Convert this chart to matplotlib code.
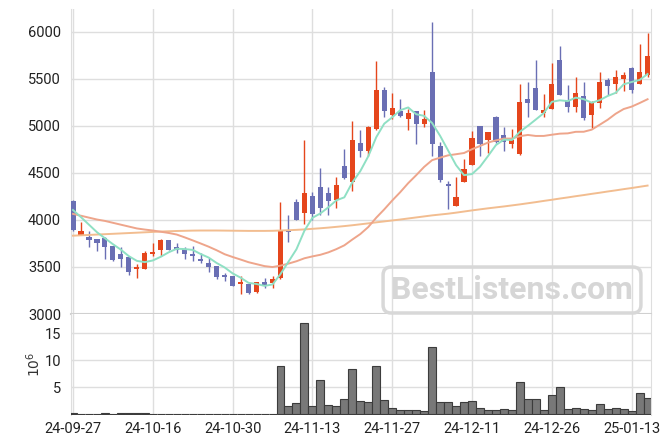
import matplotlib
matplotlib.use('Agg')
import matplotlib.pyplot as plt
import numpy as np
import pandas as pd

# ---------------- data ----------------
dates = ['24-09-27', '24-09-30', '24-10-02', '24-10-04', '24-10-07', '24-10-08', '24-10-10',
         '24-10-11', '24-10-14', '24-10-15', '24-10-16', '24-10-17', '24-10-18', '24-10-21',
         '24-10-22', '24-10-23', '24-10-24', '24-10-25', '24-10-28', '24-10-29', '24-10-30',
         '24-10-31', '24-11-01', '24-11-04', '24-11-05', '24-11-06', '24-11-07', '24-11-08',
         '24-11-11', '24-11-12', '24-11-13', '24-11-14', '24-11-15', '24-11-18', '24-11-19',
         '24-11-20', '24-11-21', '24-11-22', '24-11-25', '24-11-26', '24-11-27', '24-11-28',
         '24-11-29', '24-12-02', '24-12-03', '24-12-04', '24-12-05', '24-12-06', '24-12-09',
         '24-12-10', '24-12-11', '24-12-12', '24-12-13', '24-12-16', '24-12-17', '24-12-18',
         '24-12-19', '24-12-20', '24-12-23', '24-12-24', '24-12-26', '24-12-27', '24-12-30',
         '25-01-02', '25-01-03', '25-01-06', '25-01-07', '25-01-08', '25-01-09', '25-01-10',
         '25-01-13', '25-01-14', '25-01-15']

opens = [4200, 3845, 3820, 3800, 3810, 3720, 3640, 3610, 3482, 3482, 3643, 3685, 3787, 3710,
         3688, 3638, 3590, 3545, 3510, 3410, 3404, 3322, 3316, 3237, 3340, 3333, 3380, 3890,
         4188, 4078, 4252, 4350, 4284, 4210, 4571, 4401, 4816, 4731, 4968, 5383, 5120, 5163,
         5074, 5156, 5024, 5574, 4787, 4383, 4152, 4404, 4585, 4996, 4851, 5096, 4901, 4812,
         4699, 5284, 5401, 5142, 5184, 5702, 5266, 5206, 5319, 5120, 5248, 5489, 5450, 5503,
         5614, 5450, 5539]
highs = [4210, 3975, 3880, 3800, 3815, 3725, 3715, 3615, 3530, 3670, 3752, 3800, 3790, 3750,
         3710, 3720, 3650, 3600, 3512, 3433, 3406, 3404, 3318, 3345, 3380, 3404, 4188, 4050,
         4220, 4850, 4300, 4550, 4351, 4454, 4752, 5053, 4957, 5000, 5688, 5411, 5348, 5284,
         5181, 5160, 5170, 6110, 4834, 4415, 4454, 4646, 4943, 5000, 4935, 5106, 4986, 4965,
         5443, 5465, 5700, 5337, 5674, 5851, 5433, 5518, 5468, 5262, 5574, 5511, 5592, 5571,
         5631, 5870, 5986]
lows = [3880, 3840, 3715, 3665, 3590, 3560, 3500, 3415, 3380, 3480, 3620, 3615, 3683, 3645,
        3580, 3567, 3545, 3450, 3370, 3348, 3298, 3210, 3215, 3220, 3273, 3273, 3375, 3766,
        3995, 3957, 4000, 4053, 4050, 4124, 4433, 4309, 4667, 4681, 4960, 5092, 5071, 5095,
        4957, 4809, 4986, 4684, 4401, 4114, 4150, 4400, 4580, 4684, 4710, 4816, 4737, 4766,
        4695, 5099, 5165, 5099, 5180, 5330, 5152, 5152, 5060, 4976, 5188, 5326, 5348, 5369,
        5351, 5448, 5518]
closes = [3890, 3883, 3790, 3750, 3715, 3575, 3590, 3445, 3500, 3650, 3662, 3787, 3685, 3685,
          3635, 3617, 3567, 3497, 3397, 3398, 3301, 3340, 3220, 3337, 3298, 3376, 3894, 3876,
          4000, 4284, 4060, 4130, 4202, 4369, 4444, 4851, 4731, 4993, 5383, 5163, 5191, 5106,
          5142, 5024, 5074, 4812, 4426, 4365, 4241, 4539, 4872, 4812, 4933, 4830, 4827, 4851,
          5252, 5248, 5167, 5170, 5447, 5333, 5206, 5351, 5088, 5259, 5468, 5429, 5518, 5539,
          5386, 5574, 5745]
# volume, millions
volumes = [0.25, 0.1, 0.1, 0.1, 0.3, 0.1, 0.3, 0.3, 0.3, 0.3, 0.15, 0.15, 0.05, 0.05, 0.1,
           0.1, 0.02, 0.02, 0.1, 0.02, 0.02, 0.02, 0.02, 0.02, 0.02, 0.02, 9.0, 1.57, 2.13,
           16.9, 1.57, 6.4, 1.76, 1.6, 2.87, 8.43, 2.5, 2.3, 9.0, 2.7, 1.2, 0.83, 0.83, 0.83,
           0.65, 12.4, 2.3, 2.3, 1.57, 2.3, 2.5, 1.2, 0.83, 0.83, 1.0, 0.83, 6.0, 2.87, 2.87,
           0.83, 3.6, 5.0, 1.0, 1.2, 1.0, 0.83, 1.94, 1.0, 1.2, 1.0, 0.65, 3.98, 3.05]

# moving-average values before enough history is visible
ma5_head = [4106, 4030, 3950, 3870]
ma20_head = [4065, 4045, 4025, 4005, 3990, 3970, 3950, 3930, 3910, 3898, 3888, 3875, 3862,
             3845, 3815, 3783, 3750, 3716, 3678]
ma_long = [3833, 3837, 3841, 3845, 3849, 3853, 3857, 3861, 3865, 3869, 3873, 3877, 3880,
           3883, 3885, 3887, 3888, 3888, 3888, 3887, 3886, 3885, 3884, 3884, 3884, 3885,
           3888, 3891, 3895, 3900, 3906, 3912, 3919, 3927, 3935, 3944, 3954, 3964, 3975,
           3985, 3995, 4005, 4016, 4027, 4038, 4049, 4058, 4067, 4078, 4090, 4102, 4113,
           4124, 4134, 4144, 4155, 4166, 4178, 4190, 4203, 4215, 4228, 4240, 4253, 4265,
           4278, 4290, 4303, 4315, 4328, 4340, 4353, 4366]

price_ticks = [3000, 3500, 4000, 4500, 5000, 5500, 6000]
vol_ticks = [5, 10, 15]

# ---------------- derived ----------------
n = len(closes)
x = np.arange(n)
o = np.array(opens, float); c = np.array(closes, float)
h = np.array(highs, float); l = np.array(lows, float)
cs = pd.Series(c)
ma5 = cs.rolling(5).mean().to_numpy(); ma5[:4] = ma5_head
ma20 = cs.rolling(20).mean().to_numpy(); ma20[:19] = ma20_head

UP = '#e5461c'
DOWN = '#6a6fb4'
GRID = '#dedede'

plt.rcParams['font.family'] = ['Roboto', 'DejaVu Sans']

W, H = 671, 444
fig = plt.figure(figsize=(W / 100, H / 100), dpi=100)
L, R = 70.7, 651.0
ax = fig.add_axes([L / W, 1 - 314 / H, (R - L) / W, (314 - 9.3) / H])
axv = fig.add_axes([L / W, 1 - 415 / H, (R - L) / W, (415 - 314) / H], sharex=ax)

colors = [UP if cc >= oo else DOWN for oo, cc in zip(o, c)]

ax.vlines(x, l, h, colors=colors, lw=1.0, zorder=3)
ax.bar(x, np.maximum(np.abs(c - o), 4), bottom=np.minimum(o, c), width=0.64,
       color=colors, zorder=3, linewidth=0)

ax.plot(x, ma_long, color='#f2bd90', lw=1.4, zorder=4)
ax.plot(x, ma20, color='#eea58b', lw=1.4, zorder=4)
ax.plot(x, ma5, color='#8fe0c4', lw=1.4, zorder=4)

ax.set_ylim(3000, 6241)
ax.set_xlim(-0.29, 72.43)
ax.set_yticks(price_ticks)
ax.set_yticklabels([str(t) for t in price_ticks])

axv.bar(x, volumes, width=1.0, color='#787878', edgecolor='#3c3c3c', linewidth=0.8, zorder=3)
axv.set_ylim(-0.1, 18.6)
axv.set_yticks(vol_ticks)
axv.set_yticklabels([str(t) for t in vol_ticks])
axv.set_ylabel(r'$10^6$', fontsize=10, color='#333333', labelpad=1)

tick_idx = list(range(0, n, 10))
axv.set_xticks(tick_idx)
axv.set_xticklabels([dates[i] for i in tick_idx])
plt.setp(ax.get_xticklabels(), visible=False)

for a in (ax, axv):
    a.grid(True, color=GRID, lw=1, zorder=0)
    a.set_axisbelow(True)
    a.tick_params(axis='both', length=0, colors='#222222', labelsize=10.5)
    a.tick_params(axis='y', pad=7)
    for s in ('top', 'bottom'):
        a.spines[s].set_visible(False)
    for s in ('left', 'right'):
        a.spines[s].set_color(GRID)
axv.tick_params(axis='x', pad=5)
ax.tick_params(axis='x', length=0)
ax.spines['bottom'].set_visible(True)
ax.spines['bottom'].set_color('#d0d0d0')
ax.spines['bottom'].set_linewidth(1.5)

# watermark
fig.text(512 / W, 1 - 290 / H, 'BestListens.com', fontsize=23, fontweight='bold',
         color='#d6d6d6', ha='center', va='center', zorder=10,
         bbox=dict(boxstyle='round,pad=0.25', fc='none', ec='#d8d8d8', lw=2.5))

fig.savefig('out.png', dpi=100)
